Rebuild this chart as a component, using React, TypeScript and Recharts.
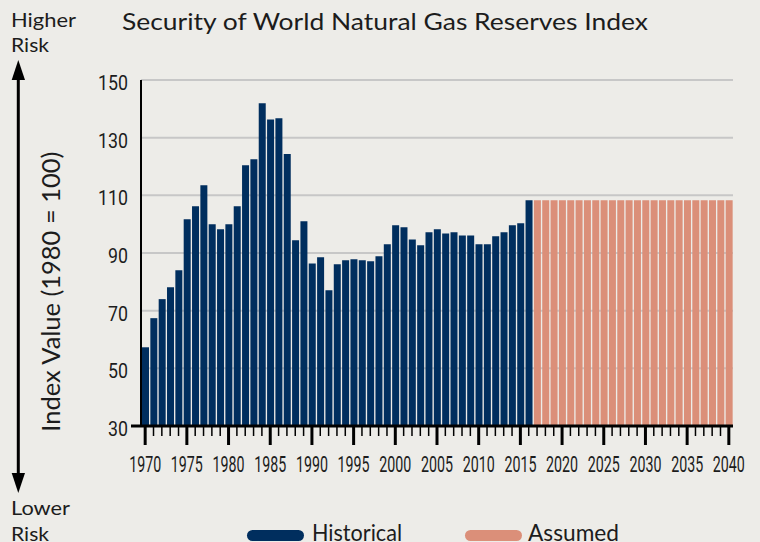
import React from "react";
import { BarChart, Bar, XAxis, YAxis, CartesianGrid, Cell } from "recharts";

// Security of World Natural Gas Reserves Index (1980 = 100)
const historicalYears = [
  1970, 1971, 1972, 1973, 1974, 1975, 1976, 1977, 1978, 1979,
  1980, 1981, 1982, 1983, 1984, 1985, 1986, 1987, 1988, 1989,
  1990, 1991, 1992, 1993, 1994, 1995, 1996, 1997, 1998, 1999,
  2000, 2001, 2002, 2003, 2004, 2005, 2006, 2007, 2008, 2009,
  2010, 2011, 2012, 2013, 2014, 2015, 2016,
];
const historicalValues = [
  57.3, 67.4, 74.0, 78.1, 84.0, 101.7, 106.2, 113.5, 100.0, 98.2,
  100.0, 106.2, 120.4, 122.5, 141.9, 136.3, 136.7, 124.3, 94.4, 101.0,
  86.4, 88.5, 77.1, 86.1, 87.5, 87.8, 87.5, 87.1, 88.9, 93.0,
  99.6, 98.9, 94.7, 92.7, 97.2, 98.2, 96.8, 97.2, 96.1, 96.1,
  93.0, 93.0, 95.8, 97.2, 99.6, 100.3, 108.3,
];
const assumedYears = [
  2017, 2018, 2019, 2020, 2021, 2022, 2023, 2024, 2025, 2026,
  2027, 2028, 2029, 2030, 2031, 2032, 2033, 2034, 2035, 2036,
  2037, 2038, 2039, 2040,
];
const assumedValues = [
  108.3, 108.3, 108.3, 108.3, 108.3, 108.3, 108.3, 108.3, 108.3, 108.3,
  108.3, 108.3, 108.3, 108.3, 108.3, 108.3, 108.3, 108.3, 108.3, 108.3,
  108.3, 108.3, 108.3, 108.3,
];
const yTicks = [30, 50, 70, 90, 110, 130, 150];

const NAVY = "#002e5e";
const SALMON = "#db8f79";
const BG = "#edece8";
const INK = "#1c1c1c";
const CONDENSED = "Roboto, 'DejaVu Sans', sans-serif";
const SANS = "Lato, 'Open Sans', sans-serif";

const data = [
  ...historicalYears.map((year, i) => ({ year, value: historicalValues[i], kind: "historical" })),
  ...assumedYears.map((year, i) => ({ year, value: assumedValues[i], kind: "assumed" })),
];

const YearTick = (props: any) => {
  const { x, y, payload } = props;
  const year = Number(payload.value);
  const major = year % 5 === 0;
  return (
    <g>
      <line
        x1={x}
        x2={x}
        y1={y}
        y2={y + (major ? 19 : 10)}
        stroke="#000"
        strokeWidth={major ? 3 : 1.5}
      />
      {major && (
        // condensed, tall digits like the original
        <text
          transform={`translate(${x},${y + 46}) scale(1,1.35)`}
          textAnchor="middle"
          fontFamily={CONDENSED}
          fontSize={17}
          textLength={32}
          lengthAdjust="spacingAndGlyphs"
          fill={INK}
        >
          {year}
        </text>
      )}
    </g>
  );
};

const ValueTick = (props: any) => {
  const { x, y, payload } = props;
  const label = String(payload.value);
  return (
    <g>
      {payload.value === 30 && (
        <line x1={x - 10} x2={x} y1={y} y2={y} stroke="#000" strokeWidth={3} />
      )}
      <text
        x={x - 13}
        y={y + 10}
        textAnchor="end"
        fontFamily={CONDENSED}
        fontSize={21}
        textLength={label.length * 10}
        lengthAdjust="spacingAndGlyphs"
        fill={INK}
      >
        {label}
      </text>
    </g>
  );
};

export default function App() {
  return (
    <div
      style={{
        position: "absolute",
        left: 0,
        top: 0,
        width: 760,
        height: 542,
        background: BG,
        overflow: "hidden",
      }}
    >
      <BarChart
        width={760}
        height={542}
        data={data}
        margin={{ top: 80, right: 27, bottom: 86, left: 101 }}
      >
        <CartesianGrid vertical={false} stroke="#c7c7c7" strokeWidth={2} />
        <XAxis
          dataKey="year"
          type="category"
          interval={0}
          height={30}
          tickSize={0}
          tickMargin={0}
          tickLine={false}
          axisLine={{ stroke: "#000", strokeWidth: 3 }}
          tick={<YearTick />}
        />
        <YAxis
          domain={[30, 150]}
          ticks={yTicks}
          width={40}
          tickSize={0}
          tickMargin={0}
          tickLine={false}
          axisLine={{ stroke: "#000", strokeWidth: 2 }}
          tick={<ValueTick />}
        />
        <Bar dataKey="value" barSize={7} isAnimationActive={false}>
          {data.map((d) => (
            <Cell key={d.year} fill={d.kind === "historical" ? NAVY : SALMON} />
          ))}
        </Bar>
      </BarChart>

      <svg
        width={760}
        height={542}
        style={{ position: "absolute", left: 0, top: 0, pointerEvents: "none" }}
      >
        <text x={122} y={30} fontFamily={SANS} fontSize={24} textLength={526} lengthAdjust="spacingAndGlyphs" fill={INK}>
          Security of World Natural Gas Reserves Index
        </text>

        {/* risk arrow */}
        <text x={11} y={27} fontFamily={SANS} fontSize={19} textLength={65} lengthAdjust="spacingAndGlyphs" fill={INK}>
          Higher
        </text>
        <text x={11} y={52} fontFamily={SANS} fontSize={19} textLength={38} lengthAdjust="spacingAndGlyphs" fill={INK}>
          Risk
        </text>
        <line x1={18.3} x2={18.3} y1={75} y2={478} stroke="#000" strokeWidth={3} />
        <polygon points="18.3,60 11.7,80 25,80" fill="#000" />
        <polygon points="18.3,493 11.7,473 25,473" fill="#000" />
        <text x={11} y={515} fontFamily={SANS} fontSize={19} textLength={59} lengthAdjust="spacingAndGlyphs" fill={INK}>
          Lower
        </text>
        <text x={11} y={541} fontFamily={SANS} fontSize={19} textLength={38} lengthAdjust="spacingAndGlyphs" fill={INK}>
          Risk
        </text>

        <text
          transform="translate(60,291.7) rotate(-90)"
          textAnchor="middle"
          fontFamily={SANS}
          fontSize={25}
          textLength={280}
          lengthAdjust="spacingAndGlyphs"
          fill={INK}
        >
          Index Value (1980 = 100)
        </text>

        {/* legend */}
        <rect x={247} y={530} width={57} height={11} rx={5.5} fill={NAVY} />
        <text x={312} y={541} fontFamily={SANS} fontSize={24} textLength={90} lengthAdjust="spacingAndGlyphs" fill={INK}>
          Historical
        </text>
        <rect x={465} y={530} width={57} height={11} rx={5.5} fill={SALMON} />
        <text x={528} y={541} fontFamily={SANS} fontSize={24} textLength={91} lengthAdjust="spacingAndGlyphs" fill={INK}>
          Assumed
        </text>
      </svg>
    </div>
  );
}
